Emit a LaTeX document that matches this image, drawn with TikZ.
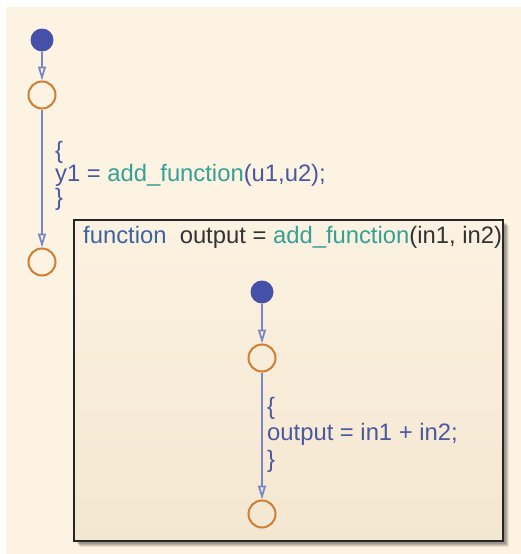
\documentclass[tikz,border=0pt]{standalone}
\usepackage{fontspec}
\setmainfont{Liberation Sans}
\usetikzlibrary{arrows.meta,shadows}
\definecolor{bgcream}{HTML}{FDF3E2}
\definecolor{boxtop}{HTML}{FCF2E1}
\definecolor{boxbot}{HTML}{F4E7D1}
\definecolor{dotblue}{HTML}{4650A8}
\definecolor{junc}{HTML}{CF7F35}
\definecolor{trans}{HTML}{7C86C6}
\definecolor{lbl}{HTML}{4A58A0}
\definecolor{teal}{HTML}{35A096}
\definecolor{kw}{HTML}{3D64A0}
\definecolor{dark}{HTML}{333333}
\tikzset{
  defdot/.style={circle, fill=dotblue, draw=none, minimum size=23pt, inner sep=0pt},
  junction/.style={circle, draw=junc, line width=2pt, minimum size=27pt, inner sep=0pt},
  transition/.style={draw=trans, line width=2.6pt, -{Triangle[open, length=14pt, width=8pt, line width=1.8pt]}},
  codelabel/.style={font=\fontsize{23.8pt}{23.5pt}\selectfont, text=lbl, align=left, inner sep=0pt},
  titletext/.style={font=\fontsize{23.8pt}{24pt}\selectfont, text=dark, inner sep=0pt}
}
\begin{document}
\begin{tikzpicture}[x=1pt,y=-1pt]
\useasboundingbox (0,0) rectangle (521,554);
\fill[white] (0,0) rectangle (521,554);
\fill[bgcream] (6,7) rectangle (521,554);
% shadow of function box
\foreach \o/\op in {6/0.08,5/0.1,4/0.12,3/0.14}{
  \fill[black, opacity=\op] (74+\o,220+\o) rectangle (503+\o,541+\o);
}
% function box
\shade[top color=boxtop, bottom color=boxbot] (74,220) rectangle (503,541);
\node[titletext, anchor=base west] (title) at (83,243)
  {\textcolor{kw}{function}\ \ output = \textcolor{teal}{add\_function}(in1, in2)};
\draw[black!85, line width=2pt] (74,220) rectangle (503,541);

% outer chart
\node[defdot] (d1) at (42,40) {};
\node[junction] (j1) at (42,95) {};
\node[junction] (j2) at (42,262) {};
\draw[transition] (d1) -- (j1);
\draw[transition] (j1) -- (j2);
\node[codelabel, anchor=north west] (lab1) at (55,141)
  {\{\\y1 = \textcolor{teal}{add\_function}(u1,u2);\\\}};

% inner chart
\node[defdot] (d2) at (262,292) {};
\node[junction] (j3) at (262,358) {};
\node[junction] (j4) at (262,514) {};
\draw[transition] (d2) -- (j3);
\draw[transition] (j3) -- (j4);
\node[codelabel, anchor=north west] (lab2) at (267,397)
  {\{\\[3pt]output = in1 + in2;\\[3pt]\}};
\end{tikzpicture}
\end{document}
